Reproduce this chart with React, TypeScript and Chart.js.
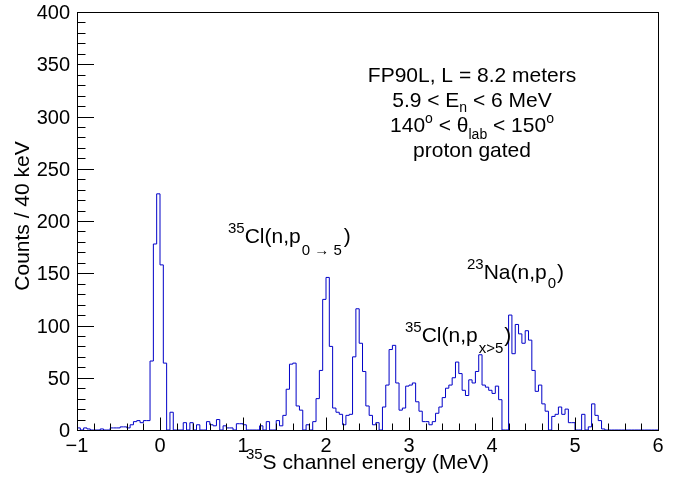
import React, { useEffect, useRef } from 'react';
import { Chart, registerables } from 'chart.js';

Chart.register(...registerables);

// ---- data ----
const HIST_MIN = -1;
const HIST_MAX = 6;
const BIN_WIDTH = 0.04; // 40 keV

// counts per 40 keV bin, first bin starts at -1 MeV
const COUNTS = [
  2, 0, 2, 1, 0, 0, 0, 1, 0, 0,
  2, 2, 2, 3, 3, 2, 5, 8, 9, 7,
  9, 9, 66, 178, 226, 158, 64, 0, 17, 0,
  0, 0, 7, 0, 7, 0, 5, 0, 0, 8,
  5, 4, 10, 0, 4, 2, 2, 0, 6, 6,
  5, 0, 0, 0, 0, 4, 0, 8, 0, 0,
  9, 4, 14, 39, 63, 64, 23, 19, 0, 5,
  0, 8, 30, 57, 125, 146, 80, 21, 17, 15,
  5, 14, 15, 70, 116, 83, 56, 23, 14, 5,
  7, 0, 22, 43, 77, 81, 45, 19, 21, 42,
  43, 45, 27, 18, 8, 8, 5, 8, 16, 22,
  31, 40, 43, 50, 65, 54, 38, 33, 48, 45,
  56, 72, 43, 41, 38, 35, 42, 29, 0, 0,
  110, 73, 101, 92, 83, 95, 86, 57, 37, 43,
  25, 18, 0, 13, 15, 22, 15, 20, 7, 7,
  0, 0, 15, 0, 3, 25, 14, 9, 1, 0,
  0, 0, 0, 0, 0, 0, 0, 0, 0, 0,
  0, 0, 0, 0, 0,
];

const X_TICK_VALUES = [-1, 0, 1, 2, 3, 4, 5, 6];
const X_TICK_LABELS = ['\u22121', '0', '1', '2', '3', '4', '5', '6'];
const X_MINOR_STEP = 0.2;
const Y_MIN = 0;
const Y_MAX = 400;
const Y_TICK_VALUES = [0, 50, 100, 150, 200, 250, 300, 350, 400];
const Y_MINOR_STEP = 10;

const X_TITLE = [{ t: '35', sup: true }, { t: 'S channel energy (MeV)' }];
const Y_TITLE = 'Counts / 40 keV';

// ---- styles ----
const FONT = '"Liberation Sans", Arial, Helvetica, sans-serif';
const LINE_COLOR = '#0000c8';
const BASE = 21;
const SMALL = 15;

type Seg = { t: string; size?: number; dy?: number; dx?: number; sup?: boolean };

function drawRich(ctx: CanvasRenderingContext2D, segs: Seg[], x: number, y: number, align: 'left' | 'center') {
  const norm = segs.map((s) => {
    if (s.sup) return { t: s.t, size: SMALL, dy: -10, dx: 0 };
    return { t: s.t, size: s.size || BASE, dy: s.dy || 0, dx: s.dx || 0 };
  });
  let total = 0;
  for (const s of norm) {
    ctx.font = `${s.size}px ${FONT}`;
    total += ctx.measureText(s.t).width + s.dx;
  }
  let cx = align === 'center' ? x - total / 2 : x;
  ctx.textAlign = 'left';
  ctx.textBaseline = 'alphabetic';
  for (const s of norm) {
    ctx.font = `${s.size}px ${FONT}`;
    cx += s.dx;
    ctx.fillText(s.t, cx, y + s.dy);
    cx += ctx.measureText(s.t).width;
  }
}

const framePlugin = {
  id: 'rootFrame',
  afterDraw(chart: any) {
    const { ctx, chartArea: a, scales } = chart;
    const xs = scales.x;
    const ys = scales.y;
    ctx.save();
    ctx.strokeStyle = '#000';
    ctx.fillStyle = '#000';
    ctx.lineWidth = 1;
    // frame
    ctx.strokeRect(Math.round(a.left) + 0.5, Math.round(a.top) + 0.5, Math.round(a.right - a.left), Math.round(a.bottom - a.top));

    // x ticks (inward, bottom)
    ctx.beginPath();
    for (let v = HIST_MIN; v <= HIST_MAX + 1e-9; v += X_MINOR_STEP) {
      const px = Math.round(xs.getPixelForValue(v)) + 0.5;
      const major = Math.abs(v - Math.round(v)) < 1e-6;
      const len = major ? 12.5 : 6.5;
      ctx.moveTo(px, a.bottom);
      ctx.lineTo(px, a.bottom - len);
    }
    // y ticks (inward, left)
    for (let v = Y_MIN; v <= Y_MAX + 1e-9; v += Y_MINOR_STEP) {
      const py = Math.round(ys.getPixelForValue(v)) + 0.5;
      const major = v % 50 === 0;
      const len = major ? 17 : 8.5;
      ctx.moveTo(a.left, py);
      ctx.lineTo(a.left + len, py);
    }
    ctx.stroke();

    // tick labels
    ctx.font = `20px ${FONT}`;
    ctx.textAlign = 'center';
    ctx.textBaseline = 'alphabetic';
    X_TICK_VALUES.forEach((v, i) => {
      ctx.fillText(X_TICK_LABELS[i], xs.getPixelForValue(v), a.bottom + 22);
    });
    ctx.textAlign = 'right';
    Y_TICK_VALUES.forEach((v) => {
      ctx.fillText(String(v), a.left - 7, ys.getPixelForValue(v) + 7);
    });

    // axis titles
    drawRich(ctx, X_TITLE, (a.left + a.right) / 2, a.bottom + 39, 'center');
    ctx.save();
    ctx.translate(23, 216);
    ctx.rotate(-Math.PI / 2);
    ctx.font = `${BASE}px ${FONT}`;
    ctx.textAlign = 'center';
    ctx.textBaseline = 'middle';
    ctx.fillText(Y_TITLE, 0, 0);
    ctx.restore();

    // annotation block
    const cxm = 472;
    drawRich(ctx, [{ t: 'FP90L, L = 8.2 meters' }], cxm, 82, 'center');
    drawRich(ctx, [{ t: '5.9 < E' }, { t: 'n', size: 14, dy: 5 }, { t: ' < 6 MeV' }], cxm, 107, 'center');
    drawRich(
      ctx,
      [
        { t: '140' }, { t: 'o', size: 14, dy: -9 }, { t: ' < \u03b8' }, { t: 'lab', size: 14, dy: 7 },
        { t: ' < 150' }, { t: 'o', size: 14, dy: -9 },
      ],
      cxm, 132, 'center'
    );
    drawRich(ctx, [{ t: 'proton gated' }], cxm, 157, 'center');

    // peak labels
    drawRich(ctx, [{ t: '35', sup: true }, { t: 'Cl(n,p' }, { t: '0 \u2192 5', size: SMALL, dy: 12, dx: 1 }, { t: ')', dx: 2 }], 228, 243, 'left');
    drawRich(ctx, [{ t: '23', sup: true }, { t: 'Na(n,p' }, { t: '0', size: SMALL, dy: 9, dx: 1 }, { t: ')', dx: 1 }], 467, 279, 'left');
    drawRich(ctx, [{ t: '35', sup: true }, { t: 'Cl(n,p' }, { t: 'x>5', size: SMALL, dy: 11, dx: 1 }, { t: ')', dx: 1 }], 405, 342, 'left');

    ctx.restore();
  },
};

export default function App() {
  const ref = useRef<HTMLCanvasElement>(null);
  useEffect(() => {
    document.body.style.margin = '0';
    const canvas = ref.current;
    if (!canvas) return;
    const points: { x: number; y: number }[] = [{ x: HIST_MIN, y: 0 }];
    COUNTS.forEach((c, i) => points.push({ x: HIST_MIN + i * BIN_WIDTH, y: c }));
    points.push({ x: HIST_MAX, y: 0 });
    const chart = new Chart(canvas, {
      type: 'line',
      data: {
        datasets: [
          {
            label: '35S channel energy',
            data: points,
            stepped: 'before',
            borderColor: LINE_COLOR,
            borderWidth: 1,
            pointRadius: 0,
            fill: false,
            tension: 0,
          },
        ],
      },
      options: {
        animation: false,
        responsive: false,
        events: [],
        layout: { padding: { left: 77, right: 25, top: 12, bottom: 48 } },
        plugins: { legend: { display: false }, tooltip: { enabled: false } },
        scales: {
          x: { type: 'linear', min: HIST_MIN, max: HIST_MAX, display: false },
          y: { type: 'linear', min: Y_MIN, max: Y_MAX, display: false },
        },
      },
      plugins: [framePlugin],
    });
    return () => chart.destroy();
  }, []);
  return <canvas ref={ref} width={683} height={478} style={{ display: 'block' }} />;
}
